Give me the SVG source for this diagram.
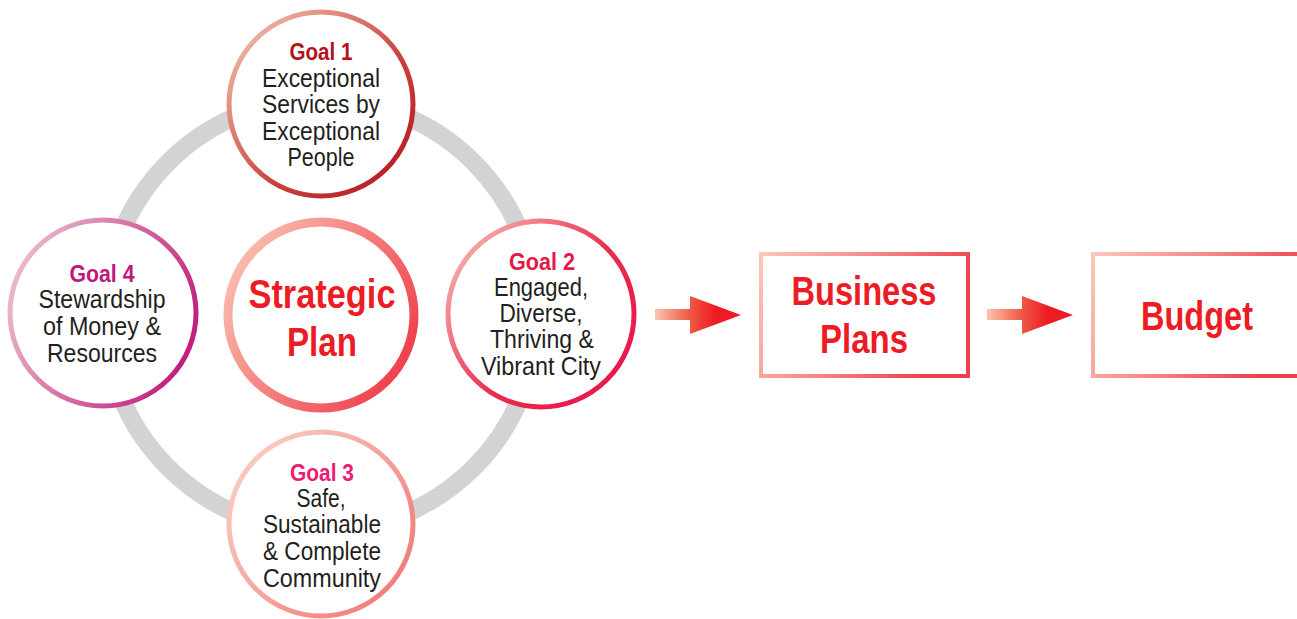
<svg xmlns="http://www.w3.org/2000/svg" width="1297" height="619" viewBox="0 0 1297 619">
<defs>
<linearGradient id="g1" x1="0" y1="0" x2="1" y2="1"><stop offset="0" stop-color="#f4cdbb"/><stop offset="0.6" stop-color="#c8413a"/><stop offset="1" stop-color="#b3121c"/></linearGradient>
<linearGradient id="g4" x1="0" y1="0.3" x2="1" y2="0.7"><stop offset="0" stop-color="#e9bccd"/><stop offset="1" stop-color="#c0187a"/></linearGradient>
<linearGradient id="g2" x1="0" y1="0" x2="1" y2="0.8"><stop offset="0" stop-color="#f8c8c0"/><stop offset="0.6" stop-color="#ea2c4e"/><stop offset="1" stop-color="#e8174a"/></linearGradient>
<linearGradient id="g3" x1="0" y1="0" x2="1" y2="0.8"><stop offset="0" stop-color="#fbd6cc"/><stop offset="1" stop-color="#ef7a78"/></linearGradient>
<linearGradient id="gs" x1="0" y1="0.2" x2="1" y2="0.8"><stop offset="0" stop-color="#f9c0b0"/><stop offset="1" stop-color="#ee3a48"/></linearGradient>
<linearGradient id="gb" x1="0" y1="0" x2="1" y2="0.3"><stop offset="0" stop-color="#fcc6bb"/><stop offset="0.5" stop-color="#f58a87"/><stop offset="1" stop-color="#ef3e4c"/></linearGradient>
<linearGradient id="ga" x1="0" y1="0" x2="1" y2="0"><stop offset="0" stop-color="#fbc4ad"/><stop offset="0.4" stop-color="#ef5a45"/><stop offset="0.7" stop-color="#ed1c24"/><stop offset="1" stop-color="#ed1c24"/></linearGradient>
</defs>
<style>
.t{font-family:"Liberation Sans",Arial,sans-serif;text-anchor:middle}
.b{fill:#231f20;font-size:25px}
.h{font-size:24px;font-weight:bold}
.big{font-size:40px;font-weight:bold;fill:#ed1c24}
.c{fill:#fff}
</style>
<rect width="1297" height="619" fill="#fff"/>
<g id="connectors">
<circle cx="321" cy="315" r="216" fill="none" stroke="#d1d3d4" stroke-width="18"/>
<g id="arrow1"><path d="M655 309 H690 V296 L741 315 L690 334 V320 H655 Z" fill="url(#ga)"/></g>
<g id="arrow2"><path d="M987 309 H1022 V296 L1073 315 L1022 334 V320 H987 Z" fill="url(#ga)"/></g>
</g>
<g id="goal1">
<circle class="c" cx="321" cy="104" r="92" stroke="url(#g1)" stroke-width="5"/>
<text class="t h" x="321" y="60" fill="#b5121b" textLength="63" lengthAdjust="spacingAndGlyphs">Goal 1</text>
<text class="t b" x="321" y="87" textLength="118" lengthAdjust="spacingAndGlyphs">Exceptional</text>
<text class="t b" x="321" y="113" textLength="118" lengthAdjust="spacingAndGlyphs">Services by</text>
<text class="t b" x="321" y="140" textLength="118" lengthAdjust="spacingAndGlyphs">Exceptional</text>
<text class="t b" x="321" y="166" textLength="67" lengthAdjust="spacingAndGlyphs">People</text>
</g>
<g id="goal4">
<circle class="c" cx="103" cy="313" r="93" stroke="url(#g4)" stroke-width="5"/>
<text class="t h" x="102" y="282" fill="#c0187a" textLength="65" lengthAdjust="spacingAndGlyphs">Goal 4</text>
<text class="t b" x="102" y="308" textLength="127" lengthAdjust="spacingAndGlyphs">Stewardship</text>
<text class="t b" x="102" y="335" textLength="118" lengthAdjust="spacingAndGlyphs">of Money &amp;</text>
<text class="t b" x="102" y="362" textLength="110" lengthAdjust="spacingAndGlyphs">Resources</text>
</g>
<g id="goal2">
<circle class="c" cx="541" cy="314" r="93" stroke="url(#g2)" stroke-width="5"/>
<text class="t h" x="542" y="270" fill="#e8174a" textLength="66" lengthAdjust="spacingAndGlyphs">Goal 2</text>
<text class="t b" x="541" y="296" textLength="94" lengthAdjust="spacingAndGlyphs">Engaged,</text>
<text class="t b" x="541" y="322" textLength="83" lengthAdjust="spacingAndGlyphs">Diverse,</text>
<text class="t b" x="542" y="348" textLength="104" lengthAdjust="spacingAndGlyphs">Thriving &amp;</text>
<text class="t b" x="541" y="375" textLength="120" lengthAdjust="spacingAndGlyphs">Vibrant City</text>
</g>
<g id="goal3">
<circle class="c" cx="321" cy="524" r="92" stroke="url(#g3)" stroke-width="5"/>
<text class="t h" x="322" y="481" fill="#ec1c74" textLength="64" lengthAdjust="spacingAndGlyphs">Goal 3</text>
<text class="t b" x="321" y="507" textLength="49" lengthAdjust="spacingAndGlyphs">Safe,</text>
<text class="t b" x="322" y="533" textLength="118" lengthAdjust="spacingAndGlyphs">Sustainable</text>
<text class="t b" x="322" y="560" textLength="118" lengthAdjust="spacingAndGlyphs">&amp; Complete</text>
<text class="t b" x="322" y="587" textLength="118" lengthAdjust="spacingAndGlyphs">Community</text>
</g>
<g id="strategic">
<circle class="c" cx="321" cy="315" r="93" stroke="url(#gs)" stroke-width="9"/>
<text class="t big" x="322" y="308" textLength="147" lengthAdjust="spacingAndGlyphs">Strategic</text>
<text class="t big" x="322" y="356" textLength="70" lengthAdjust="spacingAndGlyphs">Plan</text>
</g>
<g id="business">
<rect x="761" y="254" width="207" height="122" fill="#fff" stroke="url(#gb)" stroke-width="4"/>
<text class="t big" x="864" y="305" textLength="145" lengthAdjust="spacingAndGlyphs">Business</text>
<text class="t big" x="864" y="353" textLength="88" lengthAdjust="spacingAndGlyphs">Plans</text>
</g>
<g id="budget">
<rect x="1093" y="254" width="210" height="122" fill="#fff" stroke="url(#gb)" stroke-width="4"/>
<text class="t big" x="1197" y="330" textLength="112" lengthAdjust="spacingAndGlyphs">Budget</text>
</g>
</svg>
